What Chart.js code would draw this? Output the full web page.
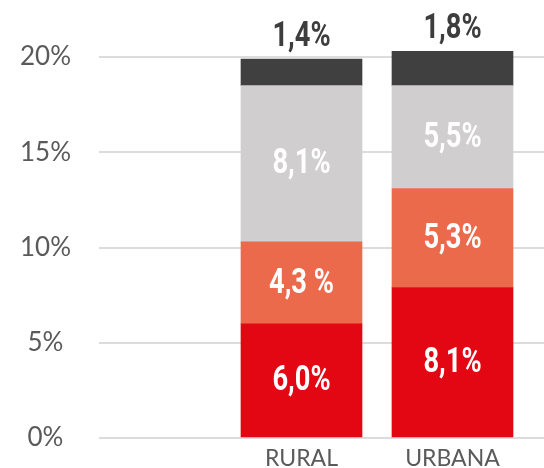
<!DOCTYPE html>
<html>
<head>
<meta charset="utf-8">
<script src="https://cdn.jsdelivr.net/npm/chart.js@4"></script>
<style>
  body { margin: 0; background: #fff; }
  #wrap { width: 544px; height: 468px; }
</style>
</head>
<body>
<div id="wrap"><canvas id="myChart"></canvas></div>
<script>
const categories = ['RURAL', 'URBANA'];
const yTicks = [0, 5, 10, 15, 20];

// segment heights (bottom to top)
const seg1 = [6.0, 7.9];
const seg2 = [4.3, 5.2];
const seg3 = [8.2, 5.4];
const seg4 = [1.4, 1.8];

// printed labels
const seg1Labels = ['6,0%', '8,1%'];
const seg2Labels = ['4,3 %', '5,3%'];
const seg3Labels = ['8,1%', '5,5%'];
const seg4Labels = ['1,4%', '1,8%'];

const colors = ['#e30613', '#ec6a4c', '#d0cecf', '#404040'];

const toPoints = (vals) => vals.map((v, i) => ({ x: i + 1, y: v }));

const segLabels = [seg1Labels, seg2Labels, seg3Labels, seg4Labels];

const barLabels = {
  id: 'barLabels',
  afterDatasetsDraw(chart) {
    const ctx = chart.ctx;
    chart.data.datasets.forEach((ds, di) => {
      const meta = chart.getDatasetMeta(di);
      meta.data.forEach((bar, i) => {
        const text = segLabels[di][i];
        const top = di === 3;
        const y = top ? bar.y - 9 : (bar.y + bar.base) / 2;
        ctx.save();
        ctx.translate(bar.x, y);
        ctx.scale(0.78, 1);
        ctx.font = 'bold 35px Roboto';
        ctx.textAlign = 'center';
        ctx.textBaseline = top ? 'alphabetic' : 'middle';
        ctx.fillStyle = top ? '#3d3d3d' : '#ffffff';
        ctx.fillText(text, 0, top ? -4 : 1);
        ctx.restore();
      });
    });
  }
};

const noPad = (axis) => {
  axis.paddingTop = 0;
  axis.paddingBottom = 0;
  axis.paddingLeft = 0;
  axis.paddingRight = 0;
};

const ctx = document.getElementById('myChart').getContext('2d');
const chart = new Chart(ctx, {
  type: 'bar',
  data: {
    datasets: [
      { data: toPoints(seg1), backgroundColor: colors[0] },
      { data: toPoints(seg2), backgroundColor: colors[1] },
      { data: toPoints(seg3), backgroundColor: colors[2] },
      { data: toPoints(seg4), backgroundColor: colors[3] }
    ]
  },
  options: {
    responsive: true,
    maintainAspectRatio: false,
    animation: false,
    layout: { padding: { top: 19, right: 0, left: 0, bottom: 0 } },
    datasets: { bar: { barThickness: 121, borderWidth: 0 } },
    plugins: { legend: { display: false }, tooltip: { enabled: false } },
    scales: {
      x: {
        type: 'linear',
        stacked: true,
        offset: false,
        min: -0.341,
        max: 2.606,
        grid: { display: false, offset: false },
        border: { display: false },
        afterBuildTicks: (axis) => { axis.ticks = categories.map((c, i) => ({ value: i + 1 })); },
        afterFit: (axis) => { axis.height = 30; noPad(axis); },
        ticks: {
          padding: -1,
          color: '#5a5a5a',
          font: { family: 'Lato', size: 23, weight: 400 },
          callback: (v) => categories[v - 1]
        }
      },
      y: {
        stacked: true,
        min: 0,
        max: 22,
        afterBuildTicks: (axis) => { axis.ticks = yTicks.map((v) => ({ value: v })); },
        afterFit: (axis) => { axis.width = 99; noPad(axis); },
        grid: { color: '#dcdcdc', lineWidth: 2, drawTicks: false },
        border: { display: false },
        ticks: {
          crossAlign: 'center',
          padding: 28,
          color: '#5a5a5a',
          font: { family: 'Lato', size: 26, weight: 400 },
          callback: (v) => v + '%'
        }
      }
    }
  },
  plugins: [barLabels]
});
</script>
</body>
</html>
